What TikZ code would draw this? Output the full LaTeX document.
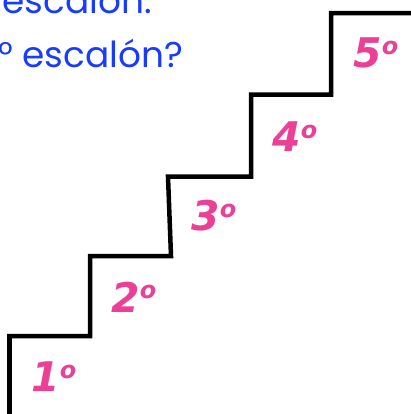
\documentclass[tikz,border=0pt]{standalone}
\usepackage{fontspec}
\setmainfont{DejaVu Sans}
\newfontfamily\labfont{DejaVu Sans}[BoldItalicFont={DejaVu Sans Bold Oblique}]
\newfontfamily\qfont{Poppins}
\definecolor{steppink}{RGB}{236,64,150}
\definecolor{qblue}{RGB}{25,60,250}
\tikzset{
  stair/.style={line width=4.5bp, black, line join=miter},
  steplabel/.style={text=steppink, inner sep=0pt, font=\labfont\bfseries\itshape\fontsize{41}{41}\selectfont},
  qtext/.style={text=qblue, inner sep=0pt, font=\qfont\fontsize{36}{36}\selectfont}
}
\newcommand{\ordo}{\raisebox{0.33em}{\fontsize{24}{24}\selectfont o}}
\begin{document}
\begin{tikzpicture}[x=1bp,y=-1bp]
\useasboundingbox (0,0) rectangle (411,414);
\clip (0,0) rectangle (411,414);
\coordinate (s0) at (9.5,416);
\coordinate (c1) at (9.5,336);
\coordinate (c2) at (90,336);
\coordinate (c3) at (90,256);
\coordinate (c4) at (171,256);
\coordinate (c5) at (168,176.5);
\coordinate (c6) at (251,176.5);
\coordinate (c7) at (251,94.5);
\coordinate (c8) at (331,94.5);
\coordinate (c9) at (331,13);
\coordinate (c10) at (413,13);
\draw[stair] (s0) -- (c1) -- (c2) -- (c3) -- (c4) -- (c5) -- (c6) -- (c7) -- (c8) -- (c9) -- (c10);
\node[steplabel] (l1) at (54,377) {1\ordo};
\node[steplabel] (l2) at (134,297) {2\ordo};
\node[steplabel] (l3) at (214,216) {3\ordo};
\node[steplabel] (l4) at (295,137) {4\ordo};
\node[steplabel] (l5) at (376,53) {5\ordo};
\node[qtext, anchor=base east] (q1) at (152,13) {escalón.};
\node[qtext, anchor=base east] (q2) at (183,67) {° escalón?};
\end{tikzpicture}
\end{document}
